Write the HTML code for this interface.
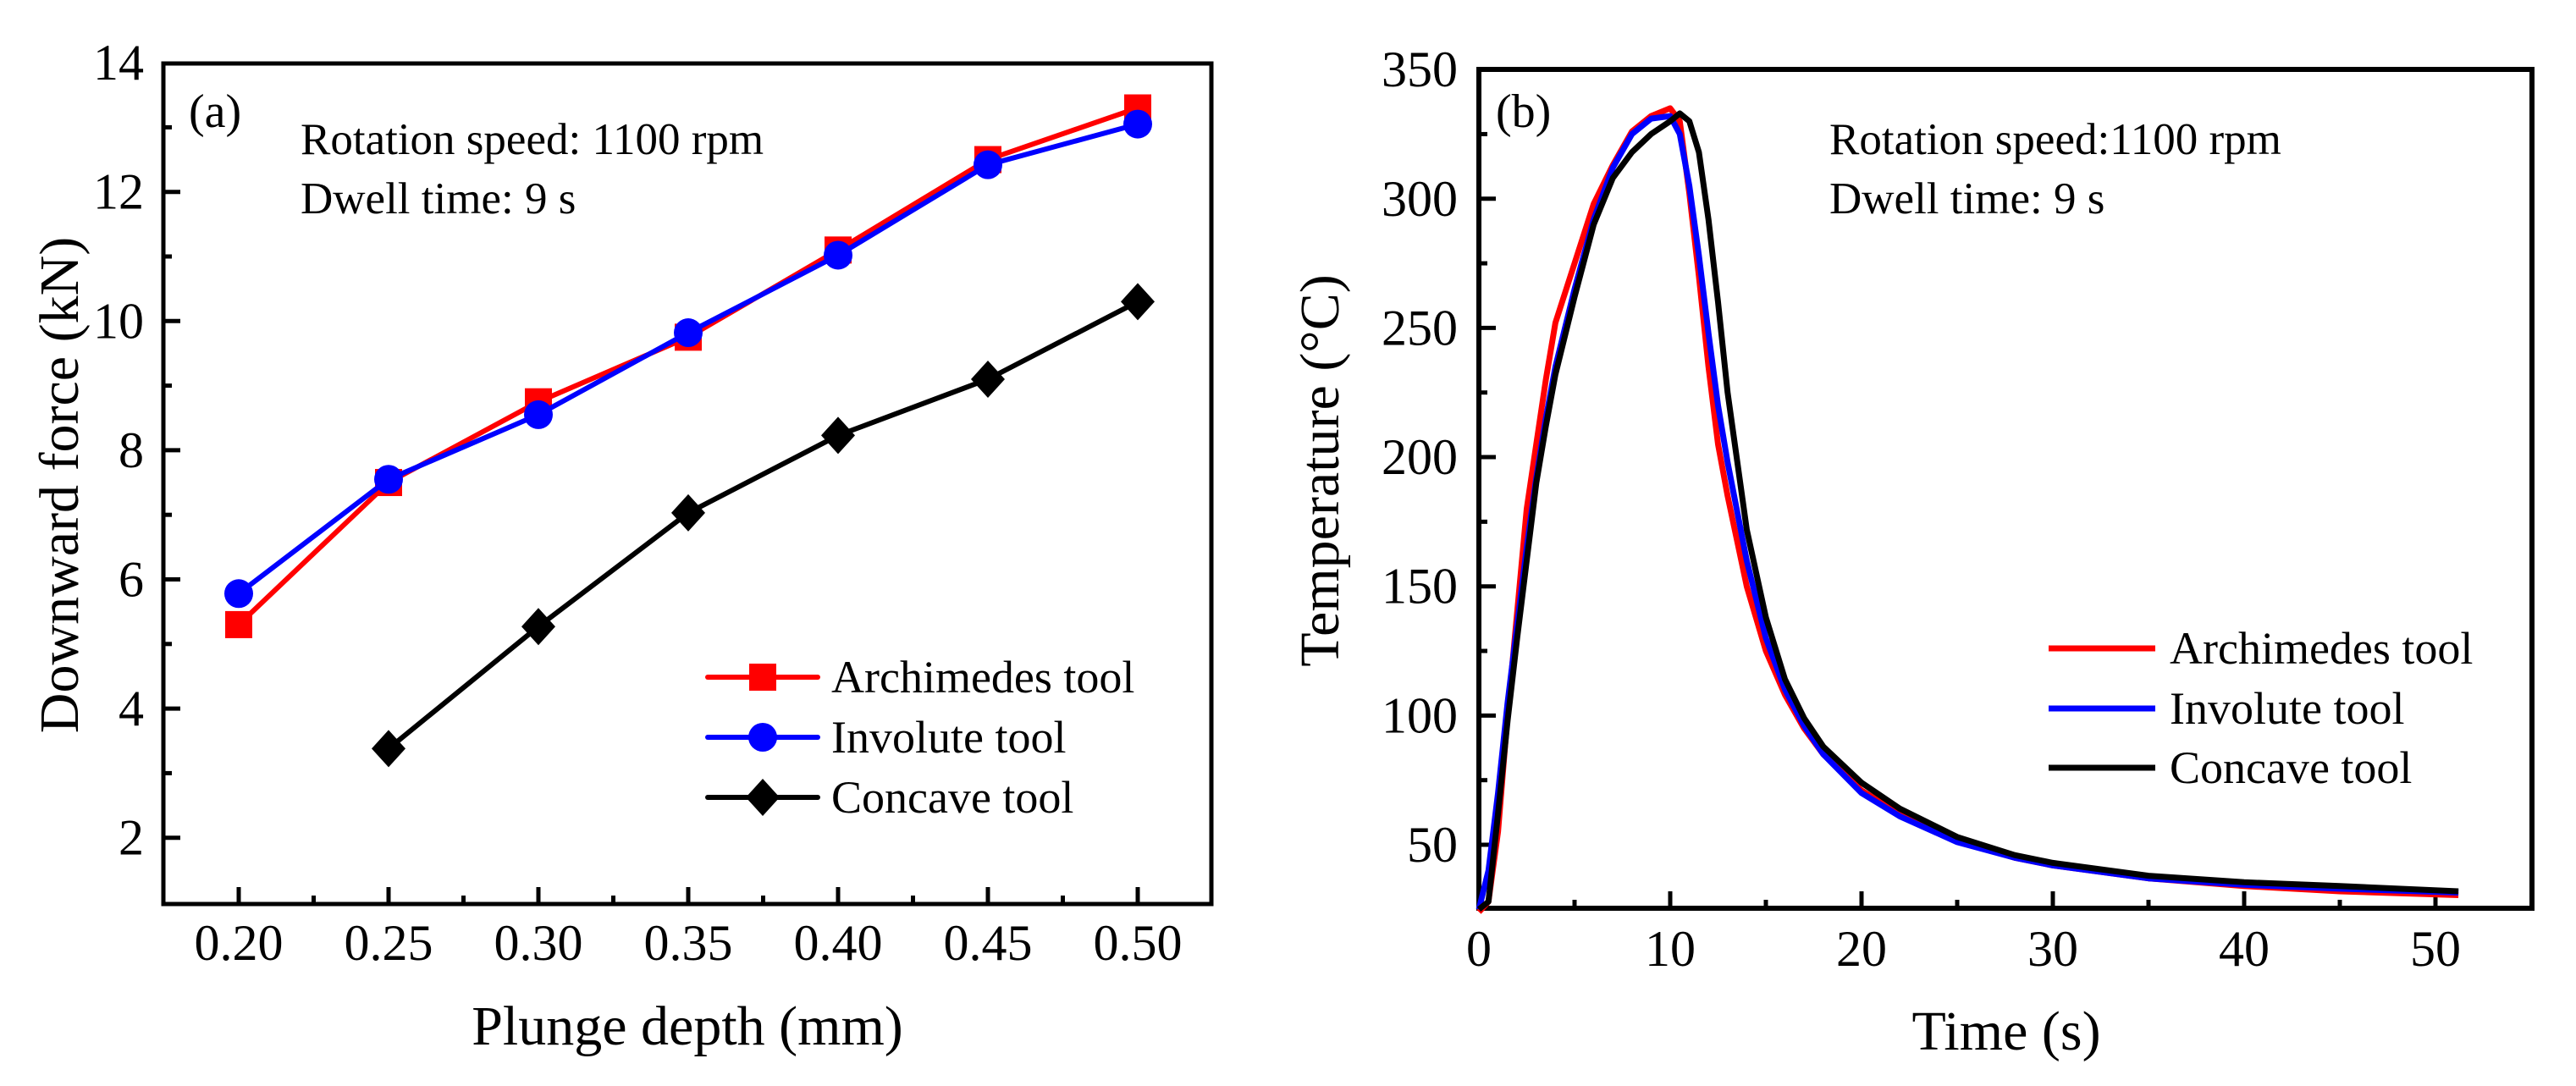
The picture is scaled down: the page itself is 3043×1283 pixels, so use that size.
<!DOCTYPE html>
<html><head><meta charset="utf-8">
<style>
html,body{margin:0;padding:0;background:#fff;}
svg{display:block;font-family:"Liberation Serif","DejaVu Serif",serif;}
</style></head>
<body>
<svg id="fig" width="3043" height="1283" viewBox="0 0 3043 1283" xmlns="http://www.w3.org/2000/svg">
<rect width="3043" height="1283" fill="#fff"/>
<g id="pa"></g>
<g id="pb"></g>
</svg>
<script>
// ---------- Panel (a) data ----------
const depthCats = [0.20, 0.25, 0.30, 0.35, 0.40, 0.45, 0.50];
const archForce = [5.3, 7.5, 8.75, 9.75, 11.1, 12.5, 13.3];
const invForce = [5.78, 7.55, 8.55, 9.82, 11.02, 12.42, 13.05];
const concDepth = [0.25, 0.30, 0.35, 0.40, 0.45, 0.50];
const concForce = [3.38, 5.27, 7.03, 8.23, 9.1, 10.3];
const aXTicks = ["0.20","0.25","0.30","0.35","0.40","0.45","0.50"];
const aYTicks = ["2","4","6","8","10","12","14"];
// ---------- Panel (b) data ----------
const timeS = [0,0.5,1,1.5,2,2.5,3,3.5,4,5,6,7,8,9,10,10.5,11,11.5,12,12.5,13,14,15,16,17,18,20,22,25,28,30,35,40,45,51.2];
const archTemp = [24,28,55,100,140,180,205,230,252,275,298,313,326,332,335,330,302,270,235,205,185,150,125,108,95,85,71,62,52,45,42,37,34,32,30.5];
const invTemp = [25,40,70,105,135,165,192,215,235,265,292,312,325,331,332,325,305,278,248,220,198,160,130,110,96,85,70,61,51,45,42,37,34.5,33,31.5];
const concTemp = [25,28,62,98,130,160,190,212,232,262,290,308,318,325,330,333,330,318,292,260,225,172,138,114,99,88,74,64,53,46,43,38,35.5,34,32];
const bXTicks = ["0","10","20","30","40","50"];
const bYTicks = ["50","100","150","200","250","300","350"];

const NS = "http://www.w3.org/2000/svg";
function mk(parent, tag, attrs, text){
  const e = document.createElementNS(NS, tag);
  for (const k in attrs) e.setAttribute(k, attrs[k]);
  if (text !== undefined) e.textContent = text;
  parent.appendChild(e);
  return e;
}
const aL=193, aR=1431, aT=75, aB=1068;
const aX = v => 282 + (v-0.20)/0.05*177;
const aY = v => 1066 - (v-1)*76.3;
const bL=1747, bR=2991, bT=82, bB=1073;
const bX = v => 1747 + v*22.6;
const bY = v => 998 - (v-50)*3.053;

const pa = document.getElementById('pa');
const pb = document.getElementById('pb');

let f = mk(pa,'rect',{x:aL,y:aT,width:aR-aL,height:aB-aT,fill:'none',stroke:'#000','stroke-width':5});


aXTicks.forEach(t=>{
  const v=parseFloat(t), x=aX(v);
  let l=mk(pa,'line',{x1:x,y1:aB,x2:x,y2:aB-20,stroke:'#000','stroke-width':5});
  
  
  let tx=mk(pa,'text',{x:x,y:1134,'font-size':60,'text-anchor':'middle'},t);
  
  
});
for(let v=0.225; v<0.52; v+=0.05){
  let l=mk(pa,'line',{x1:aX(v),y1:aB,x2:aX(v),y2:aB-10,stroke:'#000','stroke-width':5});
  
  
}
for(let v=2; v<=13; v++){
  const major = v%2===0;
  let l=mk(pa,'line',{x1:aL,y1:aY(v),x2:aL+(major?20:10),y2:aY(v),stroke:'#000','stroke-width':5});
  
  
}
aYTicks.forEach(t=>{
  let tx=mk(pa,'text',{x:170,y:aY(parseFloat(t))+20,'font-size':60,'text-anchor':'end'},t);
  
  
});
let at=mk(pa,'text',{x:812,y:1234,'font-size':66,'text-anchor':'middle'},'Plunge depth (mm)');


at=mk(pa,'text',{x:0,y:0,'font-size':66,'text-anchor':'middle',transform:'translate(92,573) rotate(-90)'},'Downward force (kN)');


at=mk(pa,'text',{x:223,y:150,'font-size':56},'(a)');


at=mk(pa,'text',{x:355,y:182,'font-size':53},'Rotation speed: 1100 rpm');


at=mk(pa,'text',{x:355,y:252,'font-size':53},'Dwell time: 9 s');



function polyPts(xs, ys, fx, fy){ return xs.map((x,i)=>fx(x).toFixed(1)+','+fy(ys[i]).toFixed(1)).join(' '); }
function marker(g, shape, cx, cy, color){
  let m;
  if(shape==='square') m=mk(g,'rect',{x:cx-16,y:cy-16,width:32,height:32,fill:color});
  else if(shape==='circle') m=mk(g,'circle',{cx:cx,cy:cy,r:17,fill:color});
  else m=mk(g,'polygon',{points:`${cx},${cy-22} ${cx+20},${cy} ${cx},${cy+22} ${cx-20},${cy}`,fill:color});
  return m;
}
const aSeries = [
  {name:'archimedes', xs:depthCats, ys:archForce, color:'#ff0000', shape:'square'},
  {name:'involute', xs:depthCats, ys:invForce, color:'#0000ff', shape:'circle'},
  {name:'concave', xs:concDepth, ys:concForce, color:'#000000', shape:'diamond'}
];
aSeries.forEach(s=>{
  const g=mk(pa,'g',{});
  
  
  let pl=mk(g,'polyline',{points:polyPts(s.xs,s.ys,aX,aY),fill:'none',stroke:s.color,'stroke-width':6,'stroke-linejoin':'round'});
  
  
  s.xs.forEach((x,i)=>{
    const m=marker(g,s.shape,aX(x),aY(s.ys[i]),s.color);
    
    
  });
});
const aLegendLabels=['Archimedes tool','Involute tool','Concave tool'];
const aLegY=[800,871,942];
aSeries.forEach((s,i)=>{
  const g=mk(pa,'g',{});
  
  
  mk(g,'line',{x1:836,y1:aLegY[i],x2:966,y2:aLegY[i],stroke:s.color,'stroke-width':6,'stroke-linecap':'round'});
  marker(g,s.shape,901,aLegY[i],s.color);
  mk(g,'text',{x:982,y:aLegY[i]+18,'font-size':54},aLegendLabels[i]);
});

f = mk(pb,'rect',{x:bL,y:bT,width:bR-bL,height:bB-bT,fill:'none',stroke:'#000','stroke-width':6});


bXTicks.forEach(t=>{
  const x=bX(parseFloat(t));
  let l=mk(pb,'line',{x1:x,y1:bB,x2:x,y2:bB-20,stroke:'#000','stroke-width':5});
  
  
  let tx=mk(pb,'text',{x:x,y:1141,'font-size':60,'text-anchor':'middle'},t);
  
  
});
for(let v=5; v<55; v+=10){
  let l=mk(pb,'line',{x1:bX(v),y1:bB,x2:bX(v),y2:bB-10,stroke:'#000','stroke-width':5});
  
  
}
for(let v=50; v<=325; v+=25){
  const major=v%50===0;
  let l=mk(pb,'line',{x1:bL,y1:bY(v),x2:bL+(major?20:10),y2:bY(v),stroke:'#000','stroke-width':5});
  
  
}
bYTicks.forEach(t=>{
  let tx=mk(pb,'text',{x:1722,y:bY(parseFloat(t))+20,'font-size':60,'text-anchor':'end'},t);
  
  
});
at=mk(pb,'text',{x:2370,y:1240,'font-size':66,'text-anchor':'middle'},'Time (s)');


at=mk(pb,'text',{x:0,y:0,'font-size':66,'text-anchor':'middle',transform:'translate(1581,556) rotate(-90)'},'Temperature (°C)');


at=mk(pb,'text',{x:1767,y:150,'font-size':56},'(b)');


at=mk(pb,'text',{x:2161,y:182,'font-size':53},'Rotation speed:1100 rpm');


at=mk(pb,'text',{x:2161,y:252,'font-size':53},'Dwell time: 9 s');



const bSeries=[
  {name:'archimedes', ys:archTemp, color:'#ff0000'},
  {name:'involute', ys:invTemp, color:'#0000ff'},
  {name:'concave', ys:concTemp, color:'#000000'}
];
bSeries.forEach(s=>{
  let pl=mk(pb,'polyline',{points:polyPts(timeS,s.ys,bX,bY),fill:'none',stroke:s.color,'stroke-width':7,'stroke-linejoin':'round'});
  
  
});
const bLegY=[766,837,907];
bSeries.forEach((s,i)=>{
  const g=mk(pb,'g',{});
  
  
  mk(g,'line',{x1:2420,y1:bLegY[i],x2:2546,y2:bLegY[i],stroke:s.color,'stroke-width':7});
  mk(g,'text',{x:2563,y:bLegY[i]+18,'font-size':54},aLegendLabels[i]);
});
</script>
</body></html>
